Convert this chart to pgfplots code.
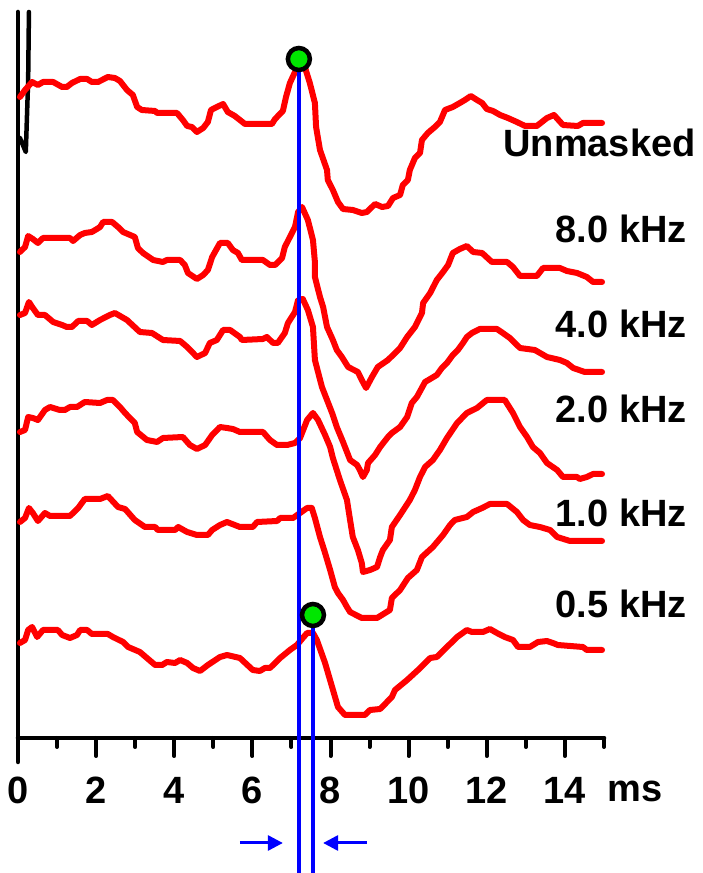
\documentclass[border=0pt]{standalone}
\usepackage{fontspec}
\setmainfont{Liberation Sans}
\usepackage{pgfplots}
\pgfplotsset{compat=1.18}
\usetikzlibrary{arrows.meta}

\definecolor{tracered}{RGB}{255,0,0}
\definecolor{marker}{RGB}{0,230,0}
\definecolor{cursor}{RGB}{0,0,255}

\newcommand{\lbl}{\fontsize{38}{40}\selectfont\bfseries}

\begin{document}
\begin{tikzpicture}
\useasboundingbox (0,0) rectangle (702pt,873pt);
\begin{axis}[
  at={(18pt,135pt)}, anchor=south west,
  scale only axis, width=586pt, height=728pt,
  xmin=0, xmax=15, ymin=0, ymax=728,
  clip=false,
  axis x line=bottom, axis y line=none,
  x axis line style={-, line width=4.5pt, line cap=round},
  xtick={0,2,...,14}, minor xtick={1,3,...,15},
  tick align=outside,
  major tick length=18pt, minor tick length=9pt,
  every tick/.style={black, line width=4pt, line cap=round},
  xticklabel style={font=\lbl, inner sep=0pt, anchor=north, yshift=-21pt},
  /pgf/number format/assume math mode=true,
  ep/.style={tracered, line width=6pt, line join=round, line cap=round, mark=none},
]

% time axis extension and amplitude scale bar
\addplot[black, line width=4.5pt, line cap=round] coordinates {(0,726) (0,-24)};
\addplot[black, line width=4.5pt, line cap=round, line join=round]
  coordinates {(0.28,726) (0.26,658) (0.20,586) (0.05,600)};

% Unmasked
\addplot[ep] coordinates {
(0.05,641) (0.18,648) (0.36,656) (0.51,653) (0.64,656) (0.90,656) (1.13,651) (1.25,651)
(1.38,655) (1.59,659) (1.77,659) (1.89,656) (2.05,656) (2.30,661) (2.48,660) (2.61,657)
(2.79,648) (2.94,643) (3.05,631) (3.17,628) (3.51,627) (3.56,625) (4.07,625) (4.22,618)
(4.33,612) (4.45,611) (4.58,606) (4.74,610) (4.86,616) (4.94,628) (5.09,631) (5.25,634)
(5.37,626) (5.55,622) (5.68,618) (5.81,614) (6.50,614) (6.58,619) (6.78,627) (6.86,641)
(6.96,655) (7.09,666) (7.19,672) (7.35,670) (7.47,655) (7.60,635) (7.63,611) (7.73,588)
(7.91,568) (7.93,558) (8.06,548) (8.19,536) (8.32,529) (8.57,528) (8.80,525) (8.93,526)
(9.14,534) (9.32,531) (9.47,532) (9.60,540) (9.78,543) (9.85,553) (9.98,558) (10.03,568)
(10.16,580) (10.29,585) (10.34,598) (10.49,605) (10.67,611) (10.80,616) (10.93,628)
(11.13,631) (11.31,635) (11.44,638) (11.59,642) (11.75,638) (11.88,635) (12.00,629)
(12.16,627) (12.34,623) (12.54,620) (12.77,616) (12.98,612) (13.28,612) (13.54,620)
(13.72,623) (13.95,613) (14.33,612) (14.46,615) (14.95,615)
};

% 8.0 kHz
\addplot[ep] coordinates {
(0.05,486) (0.18,491) (0.26,502) (0.38,499) (0.51,495) (0.64,500) (1.33,500) (1.41,497)
(1.59,503) (1.71,505) (1.89,506) (2.02,509) (2.10,511) (2.18,516) (2.41,516) (2.56,511)
(2.69,506) (2.99,501) (3.07,490) (3.20,485) (3.46,478) (3.71,476) (3.81,478) (4.15,478)
(4.27,473) (4.35,465) (4.58,459) (4.74,463) (4.86,468) (4.97,481) (5.17,495) (5.37,495)
(5.50,488) (5.63,485) (5.73,478) (6.27,478) (6.45,473) (6.58,473) (6.76,480) (6.83,491)
(6.96,501) (7.09,511) (7.17,526) (7.27,531) (7.42,518) (7.55,498) (7.60,476) (7.60,461)
(7.73,441) (7.81,431) (7.91,411) (8.06,398) (8.16,388) (8.29,381) (8.45,371) (8.70,366)
(8.80,358) (8.91,350) (9.06,361) (9.21,371) (9.47,378) (9.60,383) (9.78,390) (9.96,401)
(10.16,411) (10.34,425) (10.37,435) (10.55,445) (10.72,458) (10.88,466) (11.01,473)
(11.13,485) (11.31,489) (11.49,492) (11.65,486) (11.88,485) (12.13,476) (12.52,476)
(12.67,471) (12.85,462) (13.28,462) (13.44,470) (13.87,470) (14.05,467) (14.31,465)
(14.56,461) (14.72,456) (14.95,456)
};

% 4.0 kHz
\addplot[ep] coordinates {
(0.05,423) (0.18,425) (0.28,436) (0.38,430) (0.51,423) (0.69,423) (0.90,416) (1.13,413)
(1.25,411) (1.38,411) (1.54,417) (1.77,417) (1.89,413) (2.10,418) (2.35,423) (2.48,425)
(2.79,418) (3.12,406) (3.43,405) (3.71,398) (4.15,397) (4.33,391) (4.58,381) (4.79,385)
(4.91,395) (5.09,398) (5.25,408) (5.43,408) (5.68,401) (5.73,398) (6.27,399) (6.37,401)
(6.53,395) (6.65,395) (6.83,405) (6.91,415) (7.09,426) (7.17,438) (7.29,439) (7.42,428)
(7.55,411) (7.60,378) (7.78,351) (7.91,338) (8.04,325) (8.16,311) (8.32,296) (8.50,278)
(8.68,273) (8.75,268) (8.83,261) (8.93,268) (8.96,275) (9.14,283) (9.27,291) (9.47,301)
(9.57,305) (9.78,311) (9.96,321) (10.08,335) (10.21,341) (10.42,356) (10.72,363)
(10.85,370) (10.98,375) (11.13,383) (11.26,388) (11.39,395) (11.49,401) (11.62,405)
(11.82,409) (12.26,409) (12.41,405) (12.59,400) (12.85,390) (13.23,388) (13.54,381)
(13.87,378) (14.05,375) (14.21,370) (14.51,366) (14.95,366)
};

% 2.0 kHz
\addplot[ep] coordinates {
(0.05,306) (0.18,308) (0.26,321) (0.38,320) (0.51,318) (0.69,328) (0.82,331) (1.07,328)
(1.20,328) (1.33,331) (1.51,331) (1.71,336) (2.10,335) (2.28,338) (2.43,338) (2.61,331)
(2.74,325) (2.99,315) (3.05,306) (3.30,298) (3.56,296) (3.71,300) (4.22,301) (4.40,293)
(4.58,289) (4.79,293) (4.97,303) (5.17,311) (5.35,310) (5.50,309) (5.68,306) (6.27,306)
(6.45,298) (6.63,293) (6.89,293) (7.09,295) (7.22,300) (7.40,318) (7.55,325) (7.68,318)
(7.86,303) (7.99,291) (8.06,280) (8.24,258) (8.42,238) (8.50,218) (8.57,201) (8.70,188)
(8.80,175) (8.83,166) (9.01,168) (9.19,171) (9.27,181) (9.34,188) (9.52,198) (9.57,211)
(9.78,223) (10.03,238) (10.16,248) (10.29,261) (10.42,271) (10.62,278) (10.80,288)
(10.98,300) (11.24,315) (11.49,325) (11.75,330) (12.00,338) (12.46,338) (12.67,325)
(12.85,311) (13.03,301) (13.18,291) (13.36,285) (13.54,275) (13.80,268) (13.95,261)
(14.31,261) (14.38,259) (14.56,261) (14.72,264) (14.95,264)
};

% 1.0 kHz
\addplot[ep] coordinates {
(0.05,216) (0.18,220) (0.28,230) (0.38,225) (0.51,217) (0.69,225) (0.82,222) (1.33,222)
(1.54,230) (1.71,239) (2.10,239) (2.30,242) (2.56,231) (2.74,229) (2.99,218) (3.25,211)
(3.51,211) (3.58,208) (4.02,208) (4.10,211) (4.33,206) (4.58,203) (4.86,203) (4.97,208)
(5.17,213) (5.35,216) (5.68,211) (6.01,211) (6.12,216) (6.63,217) (6.71,220) (7.04,220)
(7.22,225) (7.40,230) (7.52,230) (7.60,220) (7.73,201) (7.86,185) (7.99,168) (8.11,151)
(8.19,145) (8.32,138) (8.42,131) (8.50,126) (8.80,120) (9.19,120) (9.52,128) (9.57,140)
(9.78,148) (9.98,160) (10.21,168) (10.34,181) (10.62,191) (10.88,203) (11.06,213)
(11.18,218) (11.49,221) (11.65,226) (11.88,230) (12.08,234) (12.52,234) (12.77,226)
(12.93,218) (13.10,213) (13.36,211) (13.62,208) (13.80,201) (14.13,197) (14.95,197)
};

% 0.5 kHz
\addplot[ep] coordinates {
(0.05,95) (0.18,98) (0.26,108) (0.36,111) (0.49,101) (0.64,108) (1.02,108) (1.13,103)
(1.33,100) (1.51,103) (1.59,108) (1.77,108) (1.89,104) (2.30,104) (2.43,101) (2.69,96)
(2.82,91) (3.12,86) (3.30,80) (3.51,73) (3.69,73) (3.81,76) (4.02,75) (4.15,78)
(4.33,75) (4.48,70) (4.66,67) (4.86,73) (5.17,81) (5.35,83) (5.68,80) (6.01,68)
(6.19,67) (6.32,70) (6.45,70) (6.71,80) (6.96,88) (7.14,93) (7.29,100) (7.40,105)
(7.55,105) (7.65,98) (7.86,75) (8.04,51) (8.19,31) (8.37,23) (8.88,23) (9.01,28)
(9.27,29) (9.57,41) (9.65,48) (9.96,58) (10.24,68) (10.42,75) (10.55,80) (10.72,81)
(10.98,91) (11.24,101) (11.49,108) (11.62,106) (11.90,106) (12.08,109) (12.26,105)
(12.46,101) (12.67,98) (12.80,91) (13.10,91) (13.31,96) (13.54,97) (13.69,95)
(13.82,93) (14.46,91) (14.56,88) (14.95,88)
};

% latency cursors
\addplot[cursor, line width=3.5pt] coordinates {(7.19,679) (7.19,-135)};
\addplot[cursor, line width=3.5pt] coordinates {(7.55,123) (7.55,-135)};
\addplot[only marks, mark=*, mark size=11pt,
  mark options={fill=marker, draw=black, line width=4.5pt}]
  coordinates {(7.19,679) (7.55,123)};

% latency shift arrows
\addplot[cursor, line width=3pt, -{Triangle[length=15pt, width=15pt]}]
  coordinates {(5.68,-105) (6.78,-105)};
\addplot[cursor, line width=3pt, -{Triangle[length=15pt, width=15pt]}]
  coordinates {(8.93,-105) (7.81,-105)};

% trace labels
\node[anchor=base east, font=\lbl, inner sep=0pt] at (axis cs:17.35,581) {Unmasked};
\node[anchor=base east, font=\lbl, inner sep=0pt] at (axis cs:17.12,495) {8.0 kHz};
\node[anchor=base east, font=\lbl, inner sep=0pt] at (axis cs:17.12,400) {4.0 kHz};
\node[anchor=base east, font=\lbl, inner sep=0pt] at (axis cs:17.12,315) {2.0 kHz};
\node[anchor=base east, font=\lbl, inner sep=0pt] at (axis cs:17.12,211) {1.0 kHz};
\node[anchor=base east, font=\lbl, inner sep=0pt] at (axis cs:17.12,120) {0.5 kHz};
\node[anchor=base west, font=\lbl, inner sep=0pt] at (axis cs:15.08,-64) {ms};
\end{axis}
\end{tikzpicture}
\end{document}
